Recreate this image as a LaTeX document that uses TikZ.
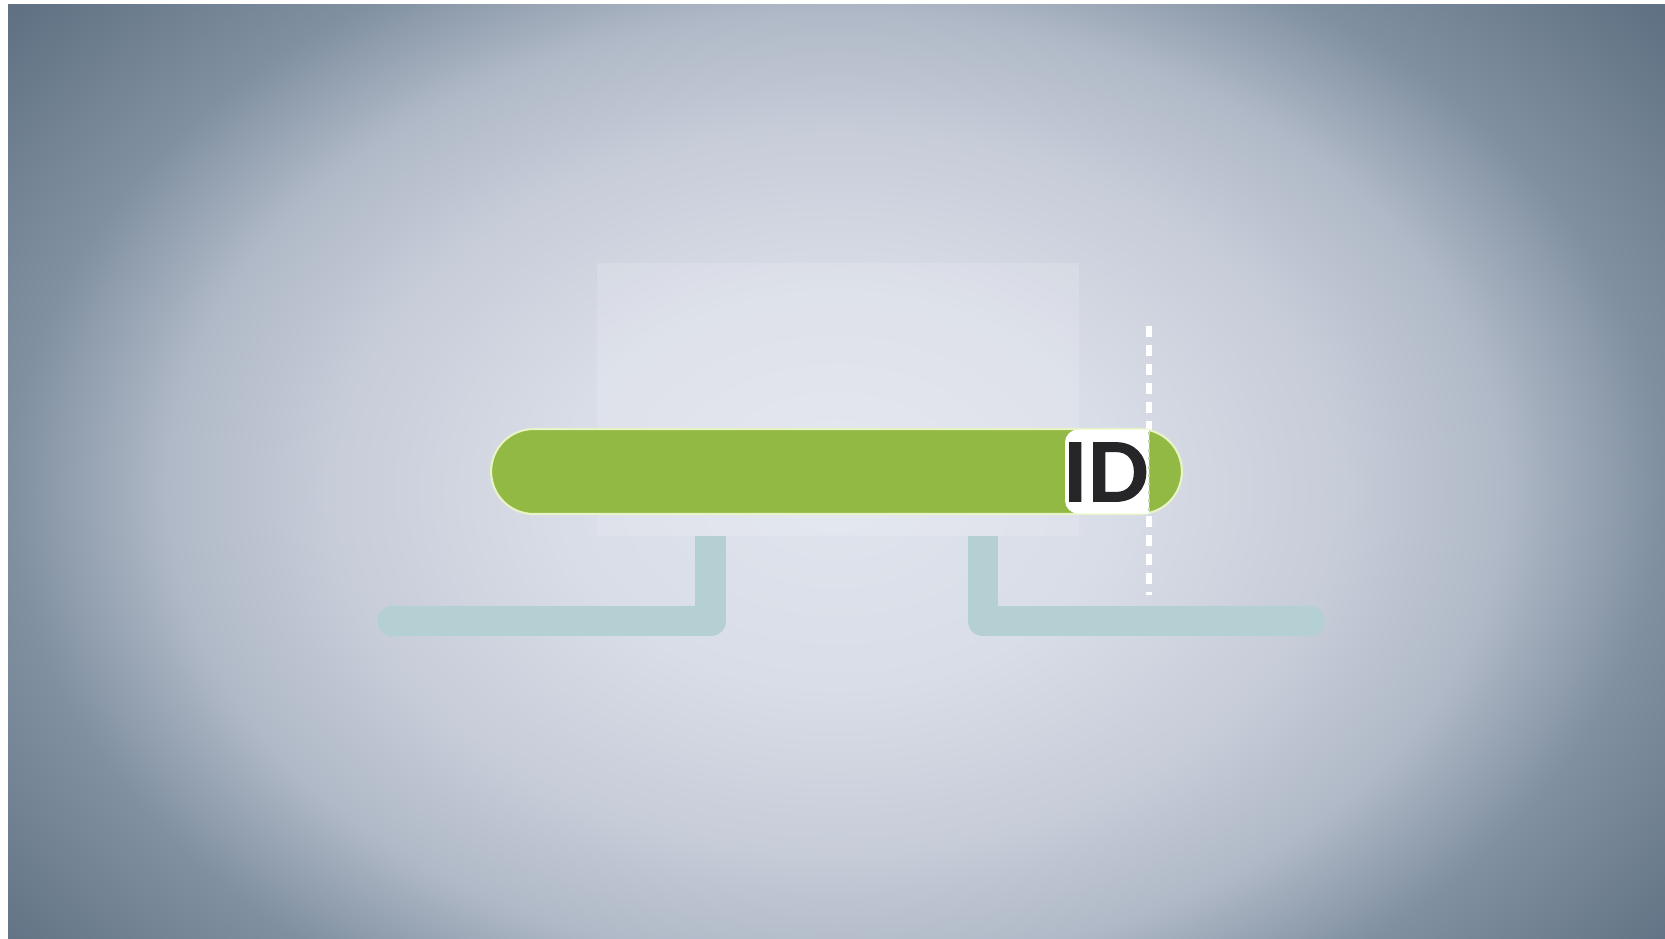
\documentclass[tikz,border=0pt]{standalone}
\usepackage{fontspec}
\newfontfamily\idfont{Lato}[BoldFeatures={FakeBold=1.6}]
\usetikzlibrary{shapes.misc}
\definecolor{vc0}{RGB}{224,228,237}
\definecolor{vc1}{RGB}{217,221,231}
\definecolor{vc2}{RGB}{198,204,216}
\definecolor{vc3}{RGB}{176,185,199}
\definecolor{vc4}{RGB}{128,144,161}
\definecolor{vc5}{RGB}{96,113,131}
\definecolor{barg}{RGB}{146,185,68}
\definecolor{barline}{RGB}{232,244,200}
\definecolor{pipecol}{RGB}{181,208,210}
\definecolor{idink}{RGB}{38,38,40}
\definecolor{seam}{RGB}{200,214,178}
\pgfdeclareradialshading{vignette}{\pgfpoint{0bp}{0bp}}{color(0bp)=(vc0); color(6.1bp)=(vc1); color(11.3bp)=(vc2); color(14.8bp)=(vc3); color(18.3bp)=(vc4); color(23.5bp)=(vc5); color(50bp)=(vc5)}
\tikzset{
  panelbox/.style={draw=none, fill=white, fill opacity=0.15, minimum width=9.64cm, minimum height=5.46cm, inner sep=0pt},
  pipe/.style={draw=pipecol, line width=17.6pt, line cap=butt, line join=round},
  pipeend/.style={fill=pipecol},
  barbox/.style={rounded rectangle, fill=barg, draw=barline, line width=1.2pt, minimum width=13.82cm, minimum height=1.7cm, inner sep=0pt},
  dashline/.style={draw=white, line width=3.2pt, dash pattern=on 6.4pt off 4.4pt},
  seamdots/.style={draw=seam, line width=1.6pt, dash pattern=on 1.6pt off 3.2pt},
  idtext/.style={font=\idfont\bfseries\fontsize{46pt}{46pt}\selectfont, text=idink, inner sep=0pt}
}
\begin{document}
\begin{tikzpicture}[x=0.02cm, y=-0.02cm]
\useasboundingbox (0,0) rectangle (1665,938);
\fill[white] (0,0) rectangle (1665,938);
\begin{scope}
  \clip (8,4) rectangle (1665,938);
  \fill[vc5] (8,4) rectangle (1665,938);
  \shade[shading=vignette] (836,490) ellipse [x radius=1127, y radius=805];
\end{scope}
% faint panel
\node[panelbox] (panel) at (838,399.5) {};
% pipes
\coordinate (lx) at (710.5,621);
\coordinate (lend) at (393,621);
\coordinate (rx) at (983,621);
\coordinate (rend) at (1309,621);
\draw[pipe] (panel.south -| lx) -- (lx) -- (lend);
\fill[pipeend] (lend) circle (15.5);
\draw[pipe] (panel.south -| rx) -- (rx) -- (rend);
\fill[pipeend] (rend) circle (15.5);
% dashed marker
\coordinate (dtop) at (1149,326);
\coordinate (dbot) at (1149,595);
\draw[dashline] (dtop) -- (dbot);
% bar
\node[barbox] (bar) at (836.5,471.5) {};
\begin{scope}
  \clip (1000,400) rectangle (1149,540);
  \fill[white, rounded corners=0.26cm] (1065,429.5) rectangle (1200,513.5);
\end{scope}
\coordinate (stop) at (1149,432);
\coordinate (sbot) at (1149,511);
\draw[seamdots] (stop) -- (sbot);
\node[idtext] (id) at (1106,472) {ID};
\end{tikzpicture}
\end{document}
